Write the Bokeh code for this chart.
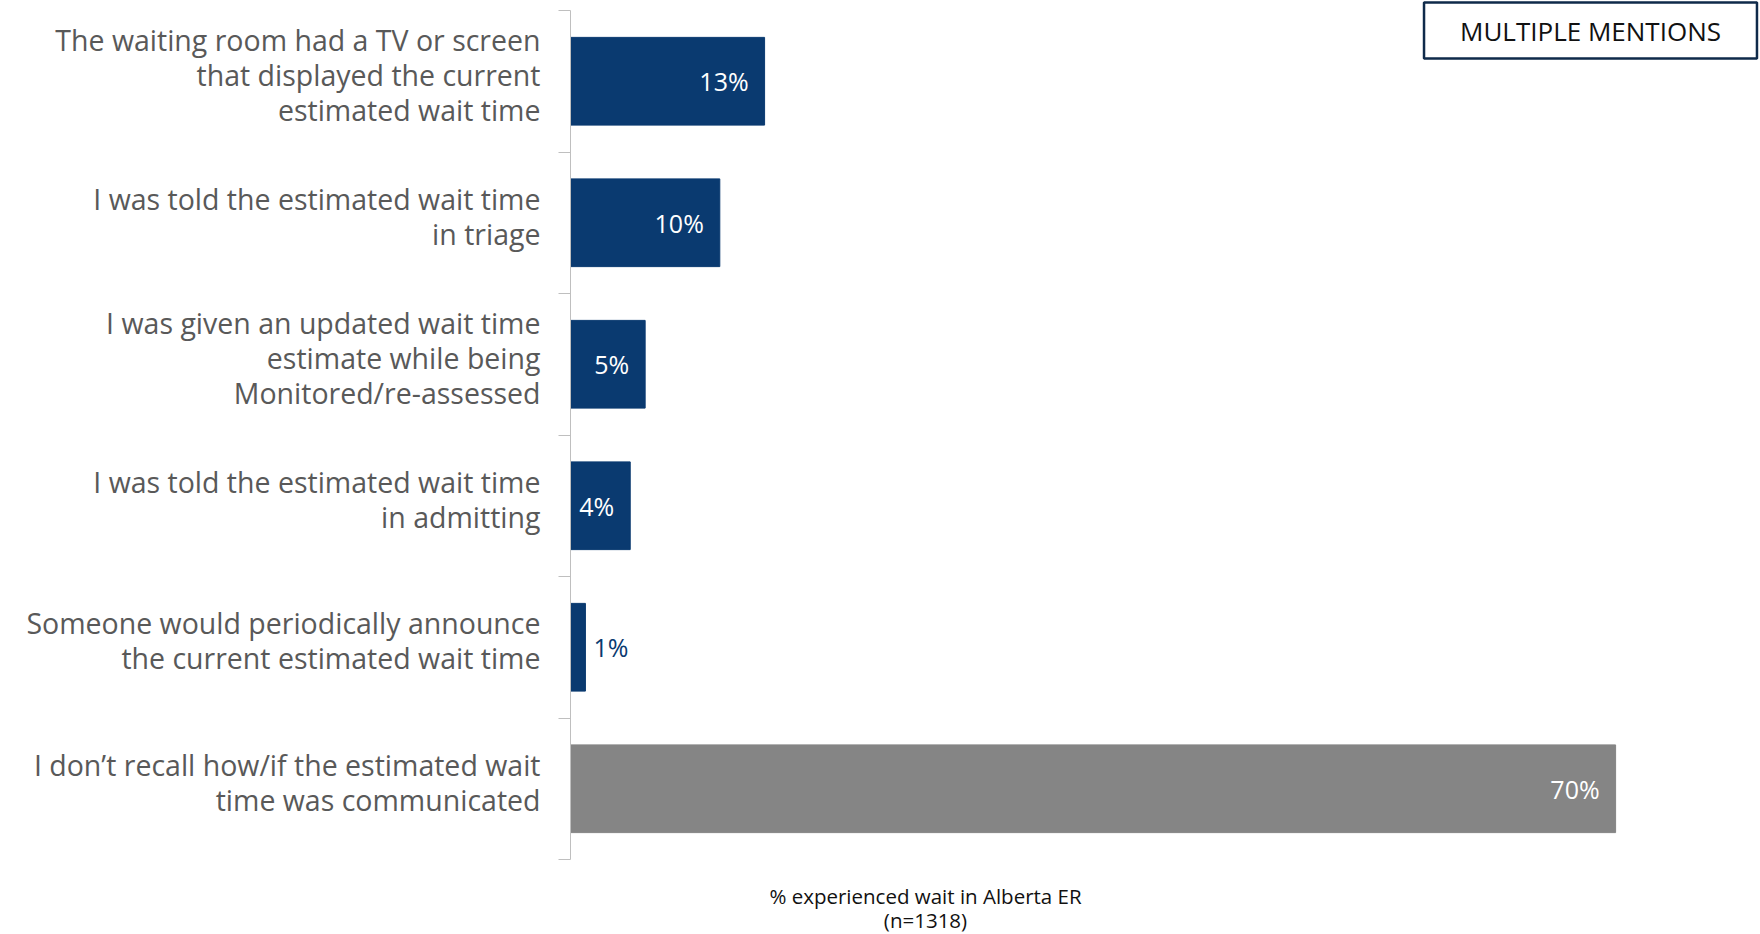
import numpy as np
from bokeh.plotting import figure
from bokeh.models import ColumnDataSource, Range1d, FixedTicker, Label
from bokeh.core.properties import value
from bokeh.embed import file_html
from bokeh.resources import INLINE

categories = [
    "The waiting room had a TV or screen\nthat displayed the current\nestimated wait time",
    "I was told the estimated wait time\nin triage",
    "I was given an updated wait time\nestimate while being\nMonitored/re-assessed",
    "I was told the estimated wait time\nin admitting",
    "Someone would periodically announce\nthe current estimated wait time",
    "I don\u2019t recall how/if the estimated wait\ntime was communicated",
]
values = [13, 10, 5, 4, 1, 70]
value_labels = ["13%", "10%", "5%", "4%", "1%", "70%"]
x_title_lines = ["% experienced wait in Alberta ER", "(n=1318)"]
badge = "MULTIPLE MENTIONS"

NAVY = "#0a3a70"
GREY = "#858585"
TEXT = "#595959"

n = len(categories)
ypos = [n - 1 - i for i in range(n)]
colors = [GREY if "recall" in c else NAVY for c in categories]
inside = [v >= 3 for v in values]

src = ColumnDataSource(dict(
    y=ypos, v=values, color=colors, lab=value_labels,
    lab_color=["white" if ins else NAVY for ins in inside],
    lab_align=["right" if ins else "left" for ins in inside],
    lab_off=[-16 if ins else 8 for ins in inside],
))

W, H = 1760, 934
# plotting area spans the whole height; the axis line is bounded to the categories
unit = (859 - 10) / n
y_lo = -0.5 - (H - 859) / unit
y_hi = n - 0.5 + 10 / unit

p = figure(width=W, height=H, output_backend="svg", toolbar_location=None,
           x_range=Range1d(0, 1190 / 14.93), y_range=Range1d(y_lo, y_hi),
           min_border_left=570, min_border_right=0, min_border_top=0, min_border_bottom=0)
p.outline_line_color = None
p.grid.visible = False
p.xaxis.visible = False

p.hbar(y="y", right="v", left=0, height=0.62, color="color", source=src)
p.text(x="v", y="y", text="lab", x_offset="lab_off", text_align="lab_align",
       text_baseline="middle", text_color="lab_color", text_font=value("Open Sans"),
       text_font_size="25px", source=src)

label_ticks = [y + 0.045 for y in ypos]
ax = p.yaxis[0]
ax.bounds = (-0.5, n - 0.5)
ax.ticker = FixedTicker(ticks=label_ticks, minor_ticks=[i - 0.5 for i in range(n + 1)])
ax.major_label_overrides = {t: c for t, c in zip(label_ticks, categories)}
ax.major_tick_line_color = None
ax.major_tick_out = 0
ax.major_tick_in = 0
ax.minor_tick_out = 12
ax.minor_tick_in = 0
ax.minor_tick_line_color = "#bfbfbf"
ax.axis_line_color = "#bfbfbf"
ax.major_label_standoff = 18
ax.major_label_text_font = "Open Sans"
ax.major_label_text_font_size = "28.5px"
ax.major_label_text_color = TEXT
ax.major_label_text_line_height = 0.92

p.add_layout(Label(x=1020, y=H - 30, x_units="screen", y_units="screen", text=badge,
                   text_align="center", text_baseline="middle", text_font="Open Sans",
                   text_font_size="26px", text_color="#111111",
                   border_line_color="#0f2a4a", border_line_width=2.5,
                   background_fill_color="white", padding=(36, 36, 10, 10)))

for i, line in enumerate(x_title_lines):
    p.add_layout(Label(x=355, y=H - 895 - 24 * i, x_units="screen", y_units="screen", text=line,
                       text_align="center", text_baseline="middle", text_font="Open Sans",
                       text_font_size="20.5px", text_color="#111111"))

open("out.html", "w").write(file_html(p, INLINE))
